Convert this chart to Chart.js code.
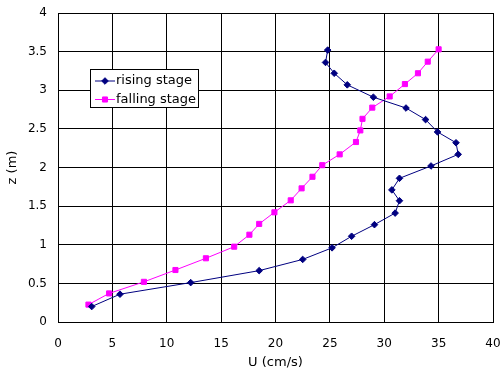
<!DOCTYPE html>
<html>
<head>
<meta charset="utf-8">
<script src="https://cdn.jsdelivr.net/npm/chart.js@4/dist/chart.umd.min.js"></script>
<style>
  html, body { margin: 0; padding: 0; background: #fff; }
  #wrap { width: 502px; height: 372px; position: relative; }
</style>
</head>
<body>
<div id="wrap"><canvas id="chart"></canvas></div>
<script>
// rising stage
const riseU = [24.8, 24.6, 25.4, 26.6, 29.0, 32.0, 33.8, 34.9, 36.6, 36.8, 34.3, 31.4, 30.7, 31.4, 31.0, 29.1, 27.0, 25.2, 22.5, 18.5, 12.2, 5.7, 3.1];
const riseZ = [3.52, 3.36, 3.22, 3.07, 2.91, 2.77, 2.62, 2.46, 2.32, 2.17, 2.02, 1.86, 1.71, 1.57, 1.41, 1.26, 1.11, 0.96, 0.81, 0.665, 0.51, 0.36, 0.20];
// falling stage
const fallU = [35.0, 34.0, 33.1, 31.9, 30.5, 28.9, 28.0, 27.8, 27.4, 25.9, 24.3, 23.4, 22.4, 21.4, 19.9, 18.5, 17.6, 16.2, 13.6, 10.8, 7.9, 4.7, 2.8];
const fallZ = [3.53, 3.37, 3.22, 3.08, 2.92, 2.775, 2.63, 2.48, 2.33, 2.17, 2.03, 1.88, 1.73, 1.575, 1.42, 1.27, 1.13, 0.975, 0.825, 0.673, 0.52, 0.37, 0.225];

const seriesNames = ['rising stage', 'falling stage'];
const xTicks = [0, 5, 10, 15, 20, 25, 30, 35, 40];
const yTicks = [0, 0.5, 1, 1.5, 2, 2.5, 3, 3.5, 4];

const FONT = 'DejaVu Sans';

function toPoints(us, zs) {
  return us.map((u, i) => ({ x: u, y: zs[i] }));
}

// no extra room for the end labels, layout padding decides the plot edges
function fixAxis(axis) {
  axis.paddingLeft = 0;
  axis.paddingRight = 0;
  axis.paddingTop = 0;
  axis.paddingBottom = 0;
}

// legend box drawn inside the plot area
const boxLegend = {
  id: 'boxLegend',
  afterDraw(chart) {
    const ctx = chart.ctx;
    const left = 90.5, top = 69.5, w = 108, h = 38;
    ctx.save();
    ctx.fillStyle = '#fff';
    ctx.fillRect(left, top, w, h);
    ctx.strokeStyle = '#000';
    ctx.lineWidth = 1;
    ctx.strokeRect(left, top, w, h);
    chart.data.datasets.forEach((ds, i) => {
      const y = 81 + i * 18.5;
      ctx.strokeStyle = ds.borderColor;
      ctx.lineWidth = 1;
      ctx.beginPath();
      ctx.moveTo(95, y);
      ctx.lineTo(115, y);
      ctx.stroke();
      ctx.fillStyle = ds.backgroundColor;
      Chart.helpers.drawPoint(ctx, {
        pointStyle: ds.pointStyle,
        radius: ds.pointRadius,
        borderWidth: 1
      }, 105, y);
      ctx.fillStyle = '#000';
      ctx.font = '13px ' + FONT;
      ctx.textBaseline = 'middle';
      ctx.textAlign = 'left';
      ctx.fillText(ds.label, 116, y);
    });
    ctx.restore();
  }
};

new Chart(document.getElementById('chart'), {
  type: 'scatter',
  data: {
    datasets: [{
      label: seriesNames[0],
      data: toPoints(riseU, riseZ),
      showLine: true,
      borderColor: '#000080',
      backgroundColor: '#000080',
      borderWidth: 1,
      pointStyle: 'rectRot',
      pointRadius: 3.3,
      pointBorderWidth: 1,
      tension: 0
    }, {
      label: seriesNames[1],
      data: toPoints(fallU, fallZ),
      showLine: true,
      borderColor: '#ff00ff',
      backgroundColor: '#ff00ff',
      borderWidth: 1,
      pointStyle: 'rect',
      pointRadius: 3.6,
      pointBorderWidth: 1,
      tension: 0
    }]
  },
  options: {
    responsive: true,
    maintainAspectRatio: false,
    animation: false,
    layout: { padding: { top: 13, right: 9, left: 0, bottom: 0 } },
    plugins: {
      legend: { display: false },
      tooltip: { enabled: false }
    },
    scales: {
      x: {
        type: 'linear',
        min: 0,
        max: 40,
        afterBuildTicks: axis => { axis.ticks = xTicks.map(v => ({ value: v })); },
        afterFit: axis => { axis.height = 50; fixAxis(axis); },
        grid: { color: '#000', lineWidth: 1, drawTicks: false },
        border: { color: '#000', width: 1 },
        ticks: { color: '#000', font: { family: FONT, size: 12 }, padding: 15, maxRotation: 0, callback: v => String(v) },
        title: { display: true, text: 'U (cm/s)', color: '#000', font: { family: FONT, size: 13 }, padding: { top: 0, bottom: 2 } }
      },
      y: {
        type: 'linear',
        min: 0,
        max: 4,
        afterBuildTicks: axis => { axis.ticks = yTicks.map(v => ({ value: v })); },
        afterFit: axis => { axis.width = 58; fixAxis(axis); },
        grid: { color: '#000', lineWidth: 1, drawTicks: false },
        border: { color: '#000', width: 1 },
        ticks: { color: '#000', font: { family: FONT, size: 12 }, padding: 11, callback: v => String(v) },
        title: { display: true, text: 'z (m)', color: '#000', font: { family: FONT, size: 13 }, padding: { top: 5, bottom: 0 } }
      }
    }
  },
  plugins: [boxLegend]
});
</script>
</body>
</html>
